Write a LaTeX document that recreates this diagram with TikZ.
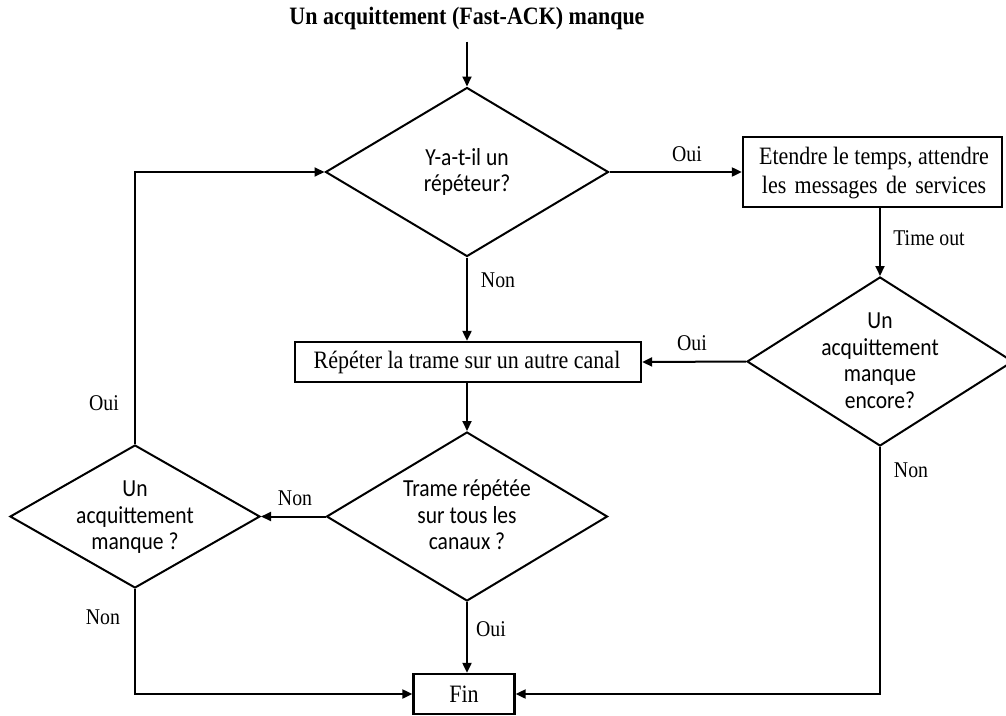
\documentclass[tikz,border=0pt]{standalone}
\usepackage{fontspec}
\setmainfont{Liberation Serif}
\newfontfamily\calfont{Carlito}
\usetikzlibrary{shapes.geometric,arrows.meta}
\newcommand{\sqz}[1]{\scalebox{0.88}[1]{#1}}
\newcommand{\lines}[1]{\sqz{\begin{tabular}{@{}c@{}}#1\end{tabular}}}
\begin{document}
\begin{tikzpicture}[x=1pt,y=-1pt,
  dia/.style={diamond,draw,line width=2pt,inner sep=0pt,aspect=1},
  dtext/.style={align=center,inner sep=0pt,font=\calfont\fontsize{24.5}{26.5}\selectfont},
  boxnode/.style={draw,line width=2.3pt,inner sep=0pt,align=center},
  btext/.style={inner sep=0pt,align=center,font=\fontsize{25}{29}\selectfont},
  lbl/.style={inner sep=0pt,font=\fontsize{22.5}{26}\selectfont},
  arr/.style={line width=2pt,-{Triangle[length=10pt,width=9pt]}},
  ln/.style={line width=2pt}]
\useasboundingbox (0,0) rectangle (1006,715);
\node[inner sep=0pt,font=\bfseries\fontsize{25}{29}\selectfont] (title) at (467,18) {\sqz{Un acquittement (Fast-ACK) manque}};
\node[dia,minimum width=283pt,minimum height=169pt] (d1) at (467,172) {};
\node[dtext] (d1t) at (467,173) {\lines{Y-a-t-il un\\répéteur?}};
\node[boxnode,minimum width=259pt,minimum height=70pt] (b1) at (872.5,172) {};
\node[btext] (b1t) at (874,173.5) {\lines{Etendre le temps, attendre\\{\spaceskip=0.38em les messages de services}}};
\node[dia,minimum width=266pt,minimum height=169pt] (d2) at (880,361.5) {};
\node[dtext] (d2t) at (880,363) {\lines{Un\\acquittement\\manque\\encore?}};
\node[boxnode,minimum width=346pt,minimum height=40pt] (b2) at (468,362) {};
\node[btext] (b2t) at (467,362) {\sqz{Répéter la trame sur un autre canal}};
\node[dia,minimum width=281pt,minimum height=169pt] (d3) at (467,516.5) {};
\node[dtext] (d3t) at (467,518) {\lines{Trame répétée\\sur tous les\\canaux ?}};
\node[dia,minimum width=250pt,minimum height=143pt] (d4) at (135,516.5) {};
\node[dtext] (d4t) at (135,518) {\lines{Un\\acquittement\\manque ?}};
\node[boxnode,minimum width=101pt,minimum height=40pt] (fin) at (464,694) {};
\node[btext] (fint) at (464,694) {\sqz{Fin}};

\draw[arr] ([yshift=-12pt]title.south) -- (d1.north);
\draw[arr] (d1.east) -- (b1.west);
\draw[arr] (b1.south -| d2.north) -- (d2.north);
\draw[arr] (d2.west) -- (b2.east);
\draw[arr] (d1.south) -- (d1.south |- b2.north);
\draw[arr] (b2.south -| d3.north) -- (d3.north);
\draw[arr] (d3.west) -- (d4.east);
\draw[arr] (d4.north) |- (d1.west);
\draw[arr] (d4.south) |- (fin.west);
\draw[arr] (d3.south) -- (d3.south |- fin.north);
\draw[arr] (d2.south) |- (fin.east);

\node[lbl] (l1) at (687,154) {\sqz{Oui}};
\node[lbl] (l2) at (929,238) {\sqz{Time out}};
\node[lbl] (l3) at (498,280) {\sqz{Non}};
\node[lbl] (l4) at (692,343) {\sqz{Oui}};
\node[lbl] (l5) at (911,470) {\sqz{Non}};
\node[lbl] (l6) at (295,498) {\sqz{Non}};
\node[lbl] (l7) at (104,403) {\sqz{Oui}};
\node[lbl] (l8) at (103,617) {\sqz{Non}};
\node[lbl] (l9) at (491,629) {\sqz{Oui}};
\end{tikzpicture}
\end{document}
